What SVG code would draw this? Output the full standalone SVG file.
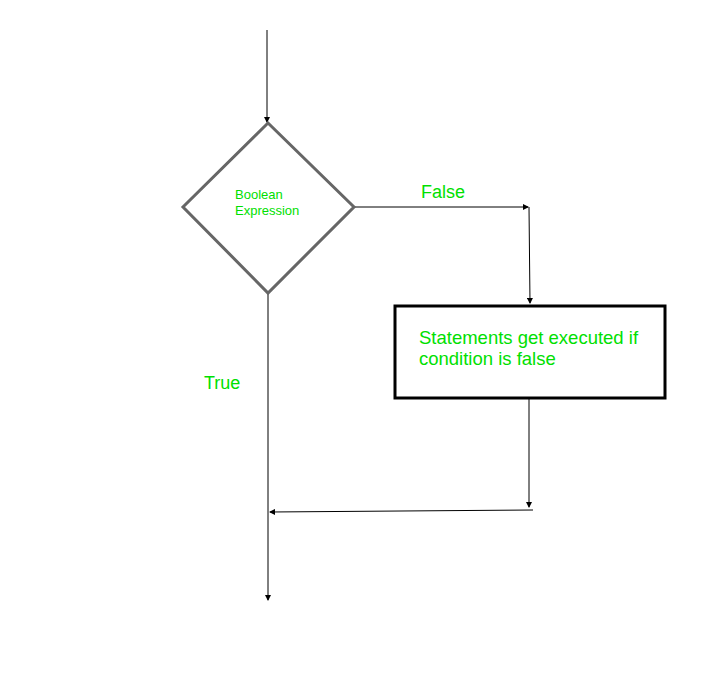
<svg xmlns="http://www.w3.org/2000/svg" width="724" height="677" viewBox="0 0 724 677">
<style>
.line{stroke:#000;stroke-width:1;fill:none}
.lbl{fill:#00e000;font-family:"Liberation Sans",Arial,sans-serif}
</style>
<defs>
<marker id="ah" markerWidth="6" markerHeight="6" refX="5" refY="3" orient="auto" markerUnits="userSpaceOnUse">
<path d="M0,0 L6,3 L0,6 z" fill="#000"/>
</marker>
</defs>
<rect width="724" height="677" fill="#fff"/>
<g id="connectors">
<line class="line" x1="267" y1="30" x2="267" y2="122" marker-end="url(#ah)"/>
<polyline class="line" points="355,207 528,207" marker-end="url(#ah)"/>
<line class="line" x1="529" y1="207" x2="530" y2="303" stroke-width="1.5" marker-end="url(#ah)"/>
<line class="line" x1="529" y1="399" x2="529" y2="507" marker-end="url(#ah)"/>
<line class="line" x1="533" y1="510" x2="270" y2="512" marker-end="url(#ah)"/>
<line class="line" x1="268" y1="294" x2="268" y2="600" marker-end="url(#ah)"/>
<text class="lbl" x="421" y="198" font-size="18">False</text>
<text class="lbl" x="204" y="389" font-size="18">True</text>
</g>
<g id="decision">
<polygon points="268,123 354,207 268,293 183,207" fill="#fff" stroke="#666" stroke-width="3"/>
<text class="lbl" x="235" y="199" font-size="13">Boolean</text>
<text class="lbl" x="235" y="215" font-size="13">Expression</text>
</g>
<g id="statements">
<rect x="395" y="306" width="270" height="92" fill="#fff" stroke="#000" stroke-width="3"/>
<text class="lbl" x="419" y="344" font-size="18.5">Statements get executed if</text>
<text class="lbl" x="419" y="365" font-size="18.5">condition is false</text>
</g>
</svg>
